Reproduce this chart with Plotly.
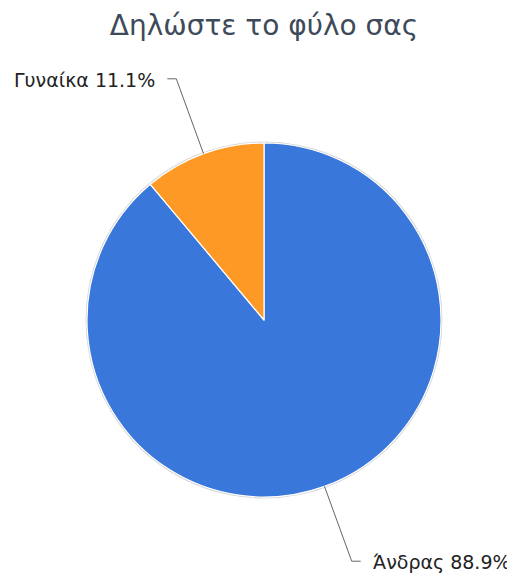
import math
import plotly.graph_objects as go

title = "Δηλώστε το φύλο σας"
labels = ["Άνδρας", "Γυναίκα"]
values = [88.9, 11.1]
colors = ["#3977db", "#fd9924"]

OFF = 8  # page body margin in the browser
W, H = 515 - OFF, 578 - OFF
cx, cy, R = 264 - OFF, 320 - OFF, 177  # pie geometry in figure pixels
FONT = "DejaVu Sans, Verdana, sans-serif"

fig = go.Figure()
fig.add_trace(go.Pie(
    labels=labels, values=values, sort=False, direction="clockwise", rotation=0,
    marker=dict(colors=colors, line=dict(color="white", width=1.2)),
    textinfo="none", hoverinfo="label+percent", showlegend=False,
    domain=dict(x=[(cx - R) / W, (cx + R) / W],
                y=[(H - cy - R) / H, (H - cy + R) / H]),
))

def px(x):
    return x / W

def py(y):
    return 1 - y / H

shapes = [dict(type="circle", xref="paper", yref="paper", layer="below",
               x0=px(cx - R - 1.5), x1=px(cx + R + 1.5),
               y0=py(cy + R + 1.5), y1=py(cy - R - 1.5),
               fillcolor="#d6d6d6", line=dict(width=0))]
annotations = []
total = sum(values)
cum = 0
for lab, v in zip(labels, values):
    mid = (cum + v / 2) / total * 2 * math.pi
    cum += v
    sx, sy = math.sin(mid), -math.cos(mid)
    ex, ey = cx + R * sx, cy + R * sy
    kx, ky = cx + R * 1.45 * sx, cy + R * 1.45 * sy
    side = 1 if sx > 0 else -1
    hx = kx + side * 9
    shapes.append(dict(type="path", xref="paper", yref="paper",
                       path=f"M {px(ex)} {py(ey)} L {px(kx)} {py(ky)} L {px(hx)} {py(ky)}",
                       line=dict(color="#666666", width=1)))
    pct = v / total * 100
    annotations.append(dict(xref="paper", yref="paper", x=px(hx + side * 10), y=py(ky + 1),
                            text=f"{lab} {pct:.1f}%", showarrow=False,
                            xanchor="left" if side > 0 else "right", yanchor="middle",
                            font=dict(size=19, color="#222222", family=FONT)))

fig.update_layout(
    width=W, height=H, margin=dict(l=0, r=0, t=0, b=0),
    paper_bgcolor="white", plot_bgcolor="white",
    title=dict(text=title, x=(264 - OFF) / W, xanchor="center", y=1 - (25 - OFF) / H,
               yanchor="middle",
               font=dict(size=28, color="#3e4a59", family=FONT)),
    shapes=shapes, annotations=annotations,
)
fig.write_html("out.html")
